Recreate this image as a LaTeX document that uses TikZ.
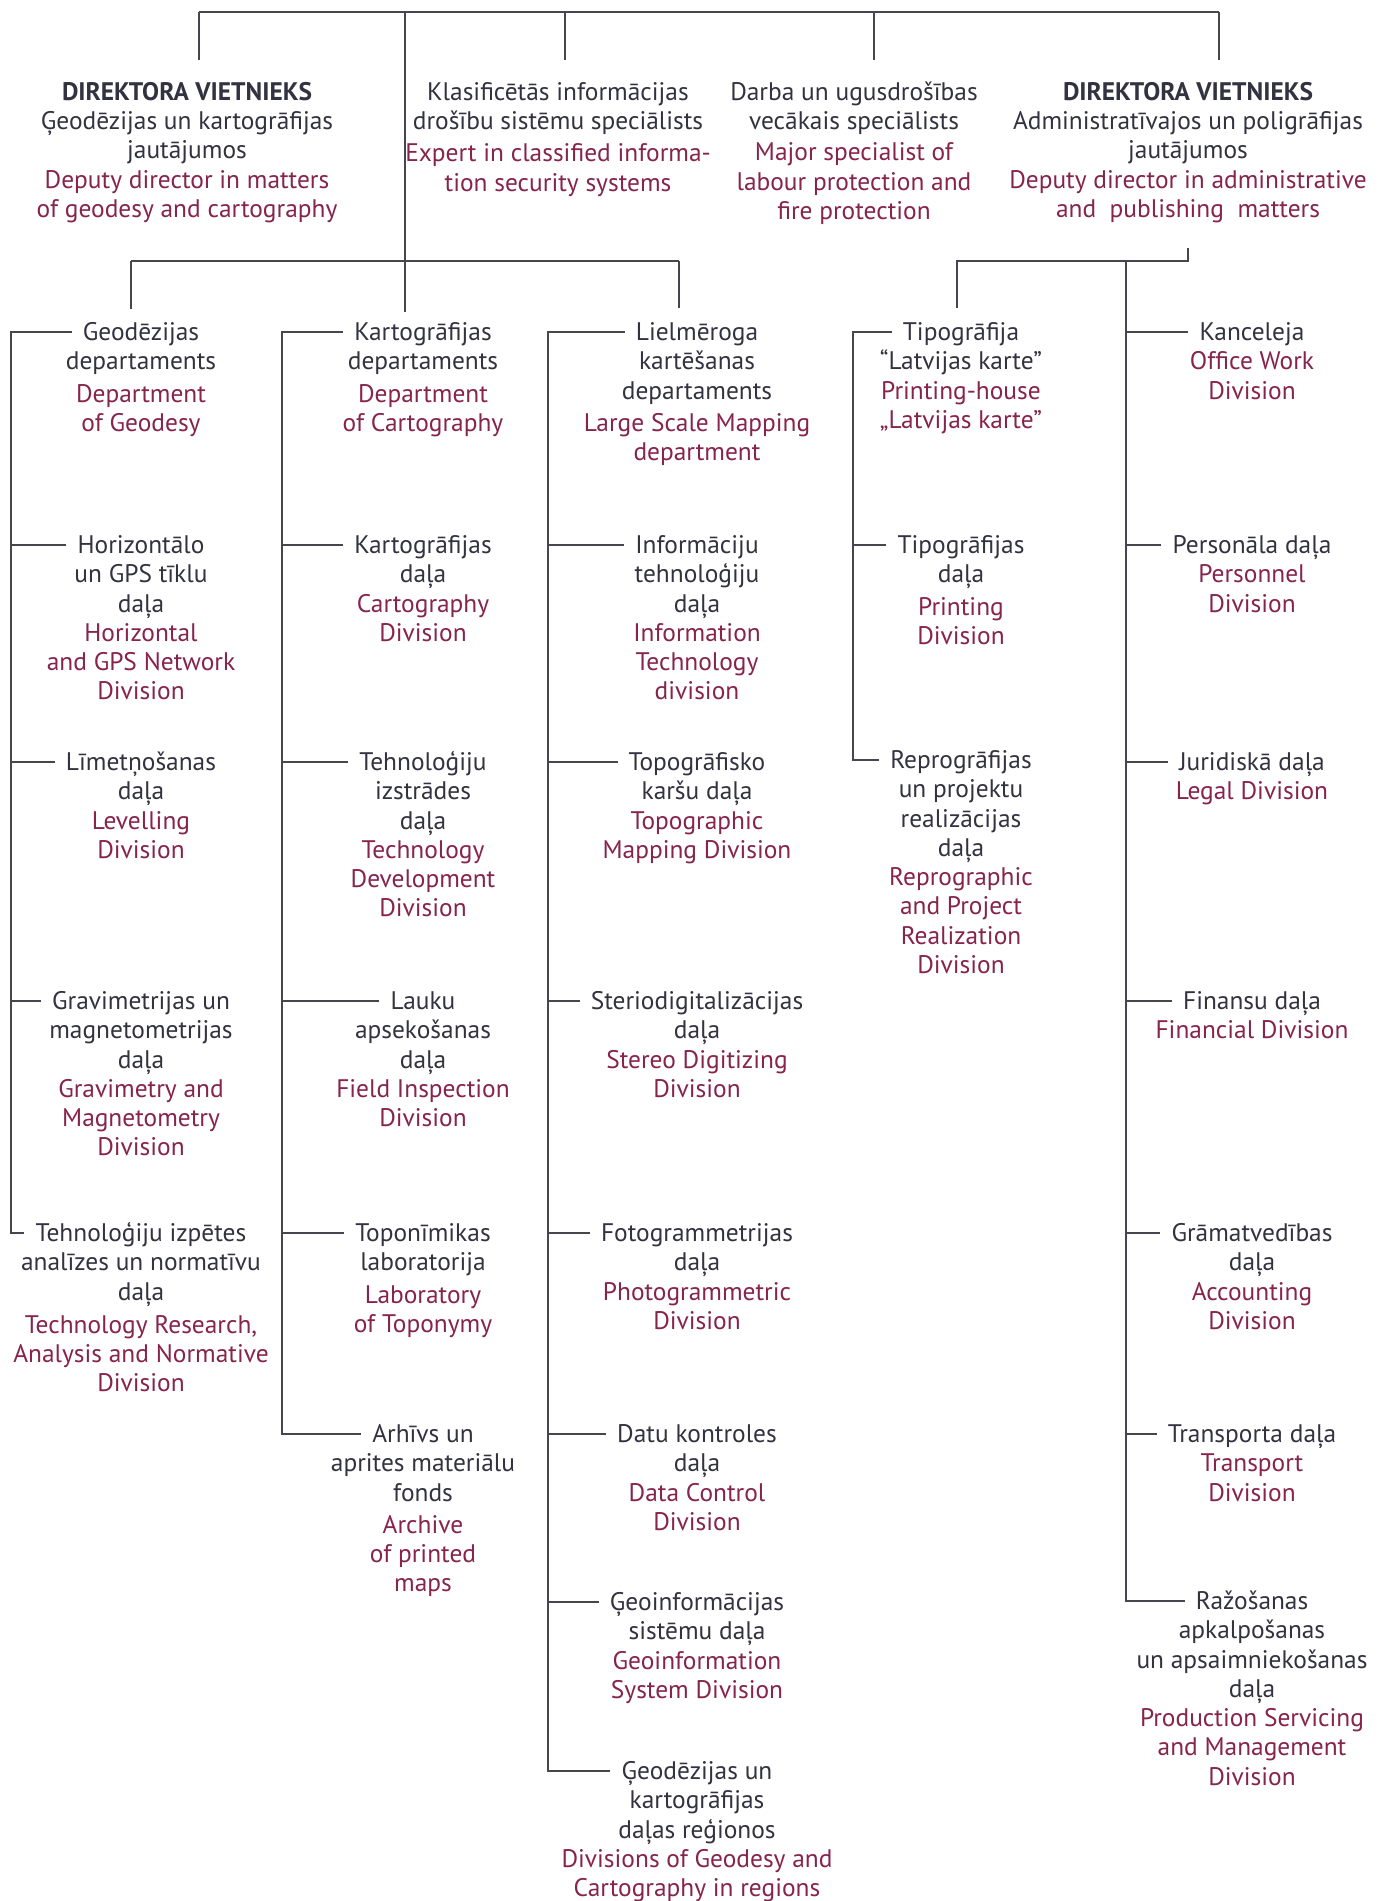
\documentclass[tikz,border=0pt]{standalone}
\usepackage{fontspec}
\setmainfont{PT Sans}
\usetikzlibrary{calc}
\definecolor{lv}{RGB}{50,50,64}
\definecolor{en}{RGB}{134,36,76}
\definecolor{ln}{RGB}{70,70,78}
\newcommand{\EN}[1]{\textcolor{en}{#1}}
\newcommand{\itemfont}{\fontsize{25.4}{29.3}\selectfont}
\newcommand{\topfont}{\fontsize{25.4}{29.3}\selectfont}
\newcommand{\itm}[5]{%
  \node[headbox] (#1) at (#2,#3) {#4};
  \node[bodybox] (#1b) at ([yshift=-9.3pt]#1.south) {\rule{0pt}{20pt}#5};}
\begin{document}
\begin{tikzpicture}[x=1pt,y=-1pt,
  headbox/.style={anchor=center,inner xsep=11pt,inner ysep=0pt,text height=16pt,text depth=0pt,font=\itemfont,text=lv},
  bodybox/.style={anchor=north,align=center,inner sep=0pt,font=\itemfont,text=lv},
  topbox/.style={anchor=north,align=center,inner sep=0pt,font=\topfont,text=lv},
  conn/.style={draw=ln,line width=2.8pt}]
\fill[white] (0,0) rectangle (1387,1901);
\useasboundingbox (0,0) rectangle (1387,1901);

% ---- top blocks
\node[topbox] (dep1) at (187,80) {\rule{0pt}{20pt}\textbf{DIREKTORA VIETNIEKS}\\Ģeodēzijas un kartogrāfijas\\jautājumos\\\EN{Deputy director in matters}\\\EN{of geodesy and cartography}};
\node[topbox] (klas) at (558,80) {\rule{0pt}{20pt}Klasificētās informācijas\\drošību sistēmu speciālists\\[3pt]\EN{Expert in classified informa-}\\\EN{tion security systems}};
\node[topbox] (darba) at (854,80) {\rule{0pt}{20pt}Darba un ugusdrošības\\vecākais speciālists\\[2pt]\EN{Major specialist of}\\\EN{labour protection and}\\\EN{fire protection}};
\node[topbox] (dep2) at (1188,80) {\rule{0pt}{20pt}\textbf{DIREKTORA VIETNIEKS}\\Administratīvajos un poligrāfijas\\jautājumos\\\EN{Deputy director in administrative}\\\EN{and~~publishing~~matters}};

% ---- column 1
\itm{c1a}{141}{332}{Geodēzijas}{departaments\\[3pt]\EN{Department}\\\EN{of Geodesy}}
\itm{c1b}{141}{545}{Horizontālo}{un GPS tīklu\\daļa\\\EN{Horizontal}\\\EN{and GPS Network}\\\EN{Division}}
\itm{c1c}{141}{762}{Līmetņošanas}{daļa\\\EN{Levelling}\\\EN{Division}}
\itm{c1d}{141}{1001}{Gravimetrijas un}{magnetometrijas\\daļa\\\EN{Gravimetry and}\\\EN{Magnetometry}\\\EN{Division}}
\itm{c1e}{141}{1233}{Tehnoloģiju izpētes}{analīzes un normatīvu\\daļa\\[4pt]\EN{Technology Research,}\\\EN{Analysis and Normative}\\\EN{Division}}

% ---- column 2
\itm{c2a}{423}{332}{Kartogrāfijas}{departaments\\[3pt]\EN{Department}\\\EN{of Cartography}}
\itm{c2b}{423}{545}{Kartogrāfijas}{daļa\\\EN{Cartography}\\\EN{Division}}
\itm{c2c}{423}{762}{Tehnoloģiju}{izstrādes\\daļa\\\EN{Technology}\\\EN{Development}\\\EN{Division}}
\itm{c2d}{423}{1001}{Lauku}{apsekošanas\\daļa\\\EN{Field Inspection}\\\EN{Division}}
\itm{c2e}{423}{1233}{Toponīmikas}{laboratorija\\[3pt]\EN{Laboratory}\\\EN{of Toponymy}}
\itm{c2f}{423}{1434}{Arhīvs un}{aprites materiālu\\fonds\\[3pt]\EN{Archive}\\\EN{of printed}\\\EN{maps}}

% ---- column 3
\itm{c3a}{697}{332}{Lielmēroga}{kartēšanas\\departaments\\[3pt]\EN{Large Scale Mapping}\\\EN{department}}
\itm{c3b}{697}{545}{Informāciju}{tehnoloģiju\\daļa\\\EN{Information}\\\EN{Technology}\\\EN{division}}
\itm{c3c}{697}{762}{Topogrāfisko}{karšu daļa\\\EN{Topographic}\\\EN{Mapping Division}}
\itm{c3d}{697}{1001}{Steriodigitalizācijas}{daļa\\\EN{Stereo Digitizing}\\\EN{Division}}
\itm{c3e}{697}{1233}{Fotogrammetrijas}{daļa\\\EN{Photogrammetric}\\\EN{Division}}
\itm{c3f}{697}{1434}{Datu kontroles}{daļa\\\EN{Data Control}\\\EN{Division}}
\itm{c3g}{697}{1602}{Ģeoinformācijas}{sistēmu daļa\\\EN{Geoinformation}\\\EN{System Division}}
\itm{c3h}{697}{1771}{Ģeodēzijas un}{kartogrāfijas\\daļas reģionos\\\EN{Divisions of Geodesy and}\\\EN{Cartography in regions}}

% ---- column 4
\itm{c4a}{961}{332}{Tipogrāfija}{“Latvijas karte”\\\EN{Printing-house}\\\EN{„Latvijas karte”}}
\itm{c4b}{961}{545}{Tipogrāfijas}{daļa\\[3pt]\EN{Printing}\\\EN{Division}}
\itm{c4c}{961}{760}{Reprogrāfijas}{un projektu\\realizācijas\\daļa\\\EN{Reprographic}\\\EN{and Project}\\\EN{Realization}\\\EN{Division}}

% ---- column 5
\itm{c5a}{1252}{332}{Kanceleja}{\EN{Office Work}\\\EN{Division}}
\itm{c5b}{1252}{545}{Personāla daļa}{\EN{Personnel}\\\EN{Division}}
\itm{c5c}{1252}{762}{Juridiskā daļa}{\EN{Legal Division}}
\itm{c5d}{1252}{1001}{Finansu daļa}{\EN{Financial Division}}
\itm{c5e}{1252}{1233}{Grāmatvedības}{daļa\\\EN{Accounting}\\\EN{Division}}
\itm{c5f}{1252}{1434}{Transporta daļa}{\EN{Transport}\\\EN{Division}}
\itm{c5g}{1252}{1601}{Ražošanas}{apkalpošanas\\un apsaimniekošanas\\daļa\\\EN{Production Servicing}\\\EN{and Management}\\\EN{Division}}

% ---- connector coordinates
\coordinate (T1) at (199,12);
\coordinate (T2) at (405,12);
\coordinate (T3) at (565,12);
\coordinate (T4) at (874,12);
\coordinate (T5) at (1219,12);
\coordinate (B1) at (199,60);
\coordinate (B3) at (565,60);
\coordinate (B4) at (874,60);
\coordinate (B5) at (1219,60);
\coordinate (D2) at (405,312);
\coordinate (H1) at (131,261);
\coordinate (H3) at (679,261);
\coordinate (D1) at (131,309);
\coordinate (D3) at (679,308);
\coordinate (R0) at (1188,248);
\coordinate (R1) at (1188,261);
\coordinate (R4) at (957,261);
\coordinate (D4) at (957,308);
\coordinate (K5) at (1126,261);
\coordinate (K1) at (11,332);
\coordinate (K2) at (282,332);
\coordinate (K3) at (548,332);
\coordinate (K4) at (853,332);

% ---- connectors
\draw[conn] (T1) -- (T5);
\draw[conn] (T1) -- (B1);
\draw[conn] (T3) -- (B3);
\draw[conn] (T4) -- (B4);
\draw[conn] (T5) -- (B5);
\draw[conn] (T2) -- (D2);
\draw[conn] (H1) -- (H3);
\draw[conn] (H1) -- (D1);
\draw[conn] (H3) -- (D3);
\draw[conn] (R0) -- (R1) -- (R4) -- (D4);

\draw[conn] (c1a.west) -- (K1) |- (c1e.west);
\foreach \n in {c1b,c1c,c1d} \draw[conn] (\n.west) -- (\n.west -| K1);
\draw[conn] (c2a.west) -- (K2) |- (c2f.west);
\foreach \n in {c2b,c2c,c2d,c2e} \draw[conn] (\n.west) -- (\n.west -| K2);
\draw[conn] (c3a.west) -- (K3) |- (c3h.west);
\foreach \n in {c3b,c3c,c3d,c3e,c3f,c3g} \draw[conn] (\n.west) -- (\n.west -| K3);
\draw[conn] (c4a.west) -- (K4) |- (c4c.west);
\draw[conn] (c4b.west) -- (c4b.west -| K4);
\draw[conn] (K5) |- (c5g.west);
\foreach \n in {c5a,c5b,c5c,c5d,c5e,c5f} \draw[conn] (\n.west) -- (\n.west -| K5);
\end{tikzpicture}
\end{document}
